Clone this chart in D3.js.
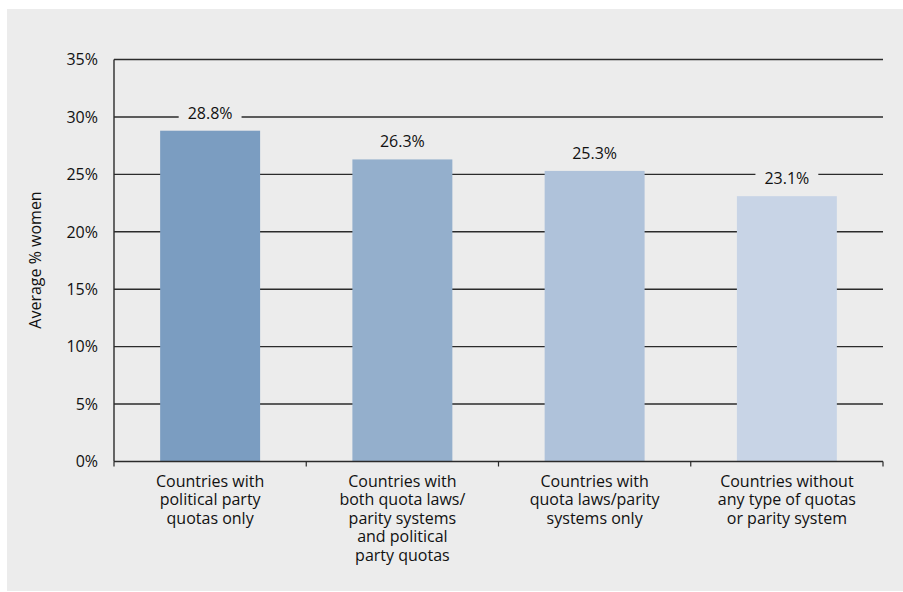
<!DOCTYPE html>
<html><head><meta charset="utf-8">
<script src="https://cdn.jsdelivr.net/npm/d3@7"></script>
<style>
html,body{margin:0;padding:0;background:#fff;}
svg text{font-family:"Open Sans","Noto Sans",sans-serif;fill:#111;}
</style></head>
<body>
<svg id="chart" width="903" height="592"></svg>
<script>
const categories = [
  ["Countries with","political party","quotas only"],
  ["Countries with","both quota laws/","parity systems","and political","party quotas"],
  ["Countries with","quota laws/parity","systems only"],
  ["Countries without","any type of quotas","or parity system"]
];
const values = [28.8, 26.3, 25.3, 23.1];
const valueLabels = ["28.8%", "26.3%", "25.3%", "23.1%"];
const barColors = ["#7b9dc1", "#94afcc", "#afc2da", "#c8d4e6"];
const yTicks = [0, 5, 10, 15, 20, 25, 30, 35];
const yTitle = "Average % women";

const svg = d3.select("#chart");
svg.append("rect").attr("x", 7).attr("y", 9).attr("width", 896).attr("height", 582).attr("fill", "#ececec");

const m = {left: 114, right: 883, top: 59.5, bottom: 461.5};
const x = d3.scaleBand().domain(d3.range(values.length)).range([m.left, m.right]).paddingInner(0.48).paddingOuter(0.24);
const y = d3.scaleLinear().domain([0, 35]).range([m.bottom, m.top]);
const fs = 16;

// gridlines
svg.append("g").selectAll("line").data(yTicks.filter(d => d > 0)).join("line")
  .attr("x1", m.left).attr("x2", m.right)
  .attr("y1", d => y(d)).attr("y2", d => y(d))
  .attr("stroke", "#2b2b2b").attr("stroke-width", 1.4);

// y tick labels
svg.append("g").selectAll("text").data(yTicks).join("text")
  .attr("x", 98).attr("y", d => y(d)).attr("dy", "0.36em")
  .attr("text-anchor", "end").attr("font-size", fs).text(d => d + "%");

// bars
svg.append("g").selectAll("rect").data(values).join("rect")
  .attr("x", (d, i) => x(i)).attr("width", x.bandwidth())
  .attr("y", d => y(d)).attr("height", d => y(0) - y(d))
  .attr("fill", (d, i) => barColors[i]);

// value labels with background
const lg = svg.append("g").selectAll("g").data(values).join("g");
lg.append("text")
  .attr("x", (d, i) => x(i) + x.bandwidth() / 2)
  .attr("y", d => y(d) - 12)
  .attr("text-anchor", "middle").attr("font-size", fs)
  .text((d, i) => valueLabels[i]);
lg.each(function () {
  const g = d3.select(this);
  const b = g.select("text").node().getBBox();
  g.insert("rect", "text").attr("x", b.x - 9).attr("y", b.y - 2)
    .attr("width", b.width + 18).attr("height", b.height + 4).attr("fill", "#ececec");
});

// axes lines
svg.append("line").attr("x1", m.left).attr("x2", m.left).attr("y1", m.top).attr("y2", m.bottom)
  .attr("stroke", "#2b2b2b").attr("stroke-width", 1.4);
svg.append("line").attr("x1", m.left).attr("x2", m.right).attr("y1", m.bottom).attr("y2", m.bottom)
  .attr("stroke", "#2b2b2b").attr("stroke-width", 1.4);
// category boundary ticks
const bounds = d3.range(values.length + 1).map(i => m.left + i * x.step());
svg.append("g").selectAll("line").data(bounds).join("line")
  .attr("x1", d => d).attr("x2", d => d).attr("y1", m.bottom).attr("y2", m.bottom + 5)
  .attr("stroke", "#2b2b2b").attr("stroke-width", 1.2);

// category labels
const cl = svg.append("g").selectAll("text").data(categories).join("text")
  .attr("text-anchor", "middle").attr("font-size", fs)
  .attr("transform", (d, i) => `translate(${x(i) + x.bandwidth() / 2},${487})`);
cl.selectAll("tspan").data(d => d).join("tspan")
  .attr("x", 0).attr("y", (d, j) => j * 18.4).text(d => d);

// y title
svg.append("text").attr("transform", `translate(41,260) rotate(-90)`)
  .attr("text-anchor", "middle").attr("font-size", fs).text(yTitle);
</script>
</body></html>
